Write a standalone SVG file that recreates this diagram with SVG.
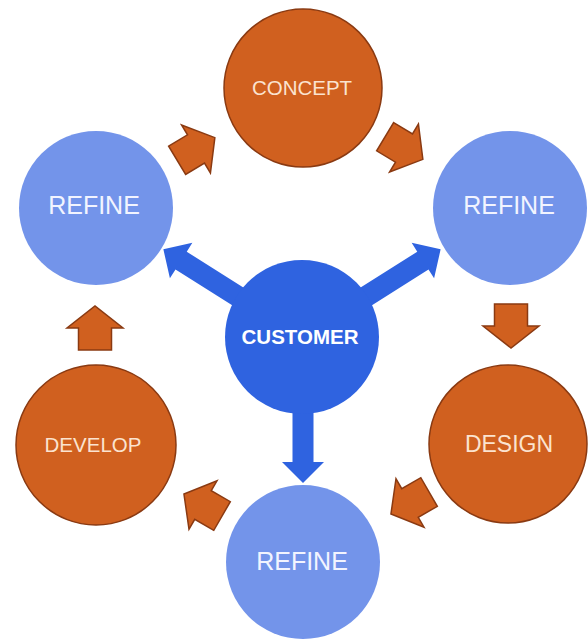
<svg xmlns="http://www.w3.org/2000/svg" width="588" height="640" viewBox="0 0 588 640">
  <defs>
    <style>
      .orange { fill: #D0601F; stroke: #8A3A12; stroke-width: 1.5; }
      .light { fill: #7394EA; }
      .core { fill: #2F63E0; }
      .oarrow { fill: #D0601F; stroke: #8A3A12; stroke-width: 1.5; stroke-linejoin: miter; }
      .barrow { fill: #2F63E0; }
      .lbl { font-family: "Liberation Sans", Arial, sans-serif; text-anchor: middle; }
      .lt { fill: #FBE3CF; font-size: 20.5px; }
      .bt { fill: #F2F4FF; font-size: 25px; }
      .ct { fill: #FFFFFF; font-size: 20.5px; font-weight: bold; }
    </style>
    <path id="oarr" d="M-22,-16.5 L0,-16.5 L0,-28 L22,0 L0,28 L0,16.5 L-22,16.5 Z"/>
  </defs>
  <rect width="588" height="640" fill="#FFFFFF"/>

  <g id="connectors">
    <!-- blue arrows from customer -->
    <path class="barrow" transform="translate(302,337) rotate(212.3)" d="M0,-10.5 L143,-10.5 L143,-21 L164,0 L143,21 L143,10.5 L0,10.5 Z"/>
    <path class="barrow" transform="translate(302,337) rotate(-32.3)" d="M0,-10.5 L143,-10.5 L143,-21 L164,0 L143,21 L143,10.5 L0,10.5 Z"/>
    <path class="barrow" transform="translate(303,337) rotate(90)" d="M0,-10.5 L125,-10.5 L125,-21 L146,0 L125,21 L125,10.5 L0,10.5 Z"/>
    <!-- orange cycle arrows -->
    <use href="#oarr" class="oarrow" transform="translate(196,149) rotate(-31)"/>
    <use href="#oarr" class="oarrow" transform="translate(404,148) rotate(31)"/>
    <use href="#oarr" class="oarrow" transform="translate(511,326) rotate(90)"/>
    <use href="#oarr" class="oarrow" transform="translate(410,503) rotate(150)"/>
    <use href="#oarr" class="oarrow" transform="translate(203,505) rotate(210)"/>
    <use href="#oarr" class="oarrow" transform="translate(95,328) rotate(-90)"/>
  </g>

  <g id="customer">
    <circle class="core" cx="302" cy="337" r="77"/>
    <text class="lbl ct" x="300" y="344">CUSTOMER</text>
  </g>
  <g id="concept">
    <circle class="orange" cx="303" cy="88" r="79"/>
    <text class="lbl lt" x="302" y="95">CONCEPT</text>
  </g>
  <g id="refine-left">
    <circle class="light" cx="96" cy="208" r="77"/>
    <text class="lbl bt" x="94" y="214">REFINE</text>
  </g>
  <g id="refine-right">
    <circle class="light" cx="510" cy="208" r="77"/>
    <text class="lbl bt" x="509" y="214">REFINE</text>
  </g>
  <g id="design">
    <circle class="orange" cx="508" cy="444" r="79"/>
    <text class="lbl lt" x="509" y="452" style="font-size:23px">DESIGN</text>
  </g>
  <g id="develop">
    <circle class="orange" cx="96" cy="445" r="80"/>
    <text class="lbl lt" x="93" y="452">DEVELOP</text>
  </g>
  <g id="refine-bottom">
    <circle class="light" cx="303" cy="562" r="77"/>
    <text class="lbl bt" x="302" y="570">REFINE</text>
  </g>
</svg>
